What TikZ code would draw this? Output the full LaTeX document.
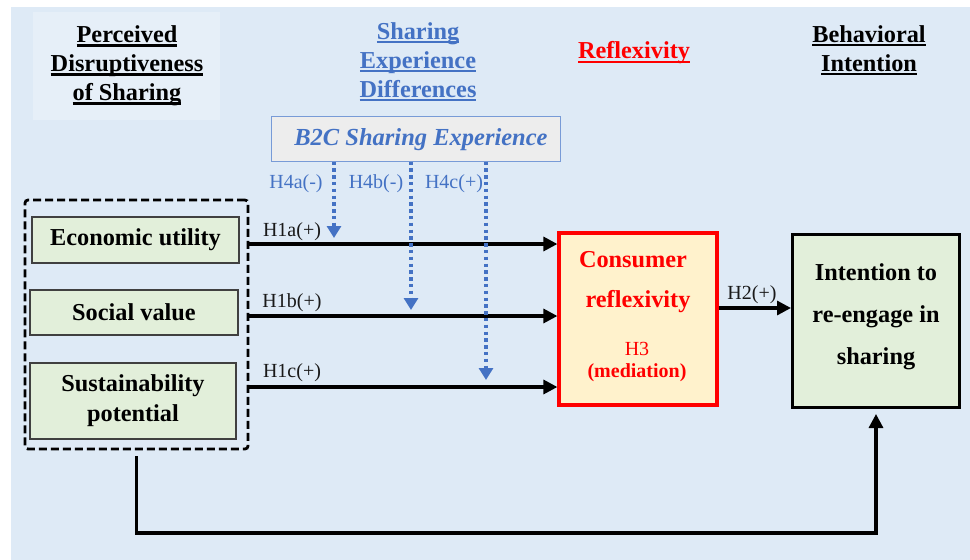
\documentclass[tikz,border=0pt]{standalone}
\usepackage{fontspec}
\setmainfont{Liberation Serif}
\usetikzlibrary{arrows.meta}
\definecolor{bgblue}{RGB}{222,234,246}
\definecolor{hdrbox}{RGB}{230,239,248}
\definecolor{accblue}{RGB}{68,114,196}
\definecolor{greenfill}{RGB}{226,239,218}
\definecolor{yellowfill}{RGB}{255,242,204}
\definecolor{grayfill}{RGB}{237,237,237}
\definecolor{b2cborder}{RGB}{120,155,215}
\newcommand{\ulx}[1]{\setbox0\hbox{#1}\rlap{\rule[-3.8pt]{\wd0}{2.2pt}}\box0}
\tikzset{
  hdr/.style={font=\bfseries\fontsize{24.3}{29}\selectfont, align=center, inner sep=0pt},
  gbox/.style={draw=black!75, line width=1.2pt, fill=greenfill, inner sep=0pt, font=\bfseries\fontsize{24.3}{30}\selectfont, align=center},
  hlabel/.style={font=\fontsize{20}{24}\selectfont, inner sep=0pt, text=black!90},
  blabel/.style={font=\fontsize{20}{24}\selectfont, inner sep=0pt, text=accblue},
  arr/.style={line width=3.2pt, -{Triangle[length=14pt,width=14pt]}},
  dotarr/.style={line width=3.4pt, accblue, dash pattern=on 3.4pt off 3.4pt, -{Triangle[length=12pt,width=14pt]}},
  redtxt/.style={text=red, inner sep=0pt}
}
\begin{document}
\begin{tikzpicture}[x=1pt,y=-1pt]
\useasboundingbox (0,0) rectangle (970,560);
\fill[bgblue] (11,7) rectangle (970,560);
\fill[hdrbox] (33,12) rectangle (220,120);

% headers
\node[hdr] (h1) at (127,66) {\ulx{Perceived}\\\ulx{Disruptiveness}\\\ulx{of Sharing}};
\node[hdr, text=accblue] (h2) at (418,62) {\ulx{Sharing}\\\ulx{Experience}\\\ulx{Differences}};
\node[hdr, text=red] (h3) at (634,53) {\ulx{Reflexivity}};
\node[hdr] (h4) at (869,50) {\ulx{Behavioral}\\\ulx{Intention}};

% B2C box
\node[draw=b2cborder, line width=1pt, fill=grayfill, minimum width=289pt, minimum height=45pt, inner sep=0pt] (b2c) at (415.5,138.5) {};
\node[text=accblue, font=\bfseries\itshape\fontsize{24.5}{28}\selectfont, inner sep=0pt] (b2ct) at (421,140) {B2C Sharing Experience};

% dashed frame and predictors
\node[draw=black, line width=2.8pt, dash pattern=on 8pt off 4pt, rounded corners=3pt, minimum width=223pt, minimum height=249pt, inner sep=0pt] (frame) at (136.5,324.5) {};
\node[gbox, minimum width=207pt, minimum height=46pt] (econ) at (135.5,240) {Economic utility};
\node[gbox, minimum width=208pt, minimum height=45pt] (soc) at (134,312.5) {Social value};
\node[gbox, minimum width=206pt, minimum height=76pt] (sus) at (133,401) {Sustainability\\potential};

% mediator
\node[draw=red, line width=3.2pt, fill=yellowfill, minimum width=158pt, minimum height=172pt, inner sep=0pt] (red) at (638,319) {};
\node[redtxt, font=\bfseries\fontsize{24.3}{28}\selectfont] (c1) at (633,260) {Consumer};
\node[redtxt, font=\bfseries\fontsize{24.3}{28}\selectfont] (c2) at (638,302) {reflexivity};
\node[redtxt, font=\fontsize{20}{24}\selectfont] (c3) at (637,349) {H3};
\node[redtxt, font=\bfseries\fontsize{20}{24}\selectfont] (c4) at (637,373) {(mediation)};

% outcome
\node[draw=black, line width=3pt, fill=greenfill, minimum width=167pt, minimum height=173pt, inner sep=0pt] (intent) at (876,321) {};
\node[font=\bfseries\fontsize{24.3}{42}\selectfont, align=center, inner sep=0pt] (it) at (876,317) {Intention to\\re-engage in\\sharing};

% solid arrows
\coordinate (s1) at (248,244);
\coordinate (s2) at (248,316);
\coordinate (s3) at (248,387);
\draw[arr] (s1) -- (red.west |- s1);
\draw[arr] (s2) -- (red.west |- s2);
\draw[arr] (s3) -- (red.west |- s3);
\coordinate (s4) at (718,308);
\draw[arr] (red.east |- s4) -- (intent.west |- s4);
\draw[arr, shorten <=6pt, shorten >=5pt] (frame.south) -- (frame.south |- 0,533) -| (intent.south);

% dotted moderator arrows
\coordinate (d1) at (334,238);
\coordinate (d2) at (411,310);
\coordinate (d3) at (486,380);
\draw[dotarr] (b2c.south -| d1) -- (d1);
\draw[dotarr] (b2c.south -| d2) -- (d2);
\draw[dotarr] (b2c.south -| d3) -- (d3);

% labels
\node[hlabel] (l1) at (292,232) {H1a(+)};
\node[hlabel] (l2) at (292,303) {H1b(+)};
\node[hlabel] (l3) at (292,373) {H1c(+)};
\node[hlabel] (l4) at (752,295) {H2(+)};
\node[blabel] (m1) at (296,184) {H4a(-)};
\node[blabel] (m2) at (376,184) {H4b(-)};
\node[blabel] (m3) at (454,184) {H4c(+)};
\end{tikzpicture}
\end{document}
